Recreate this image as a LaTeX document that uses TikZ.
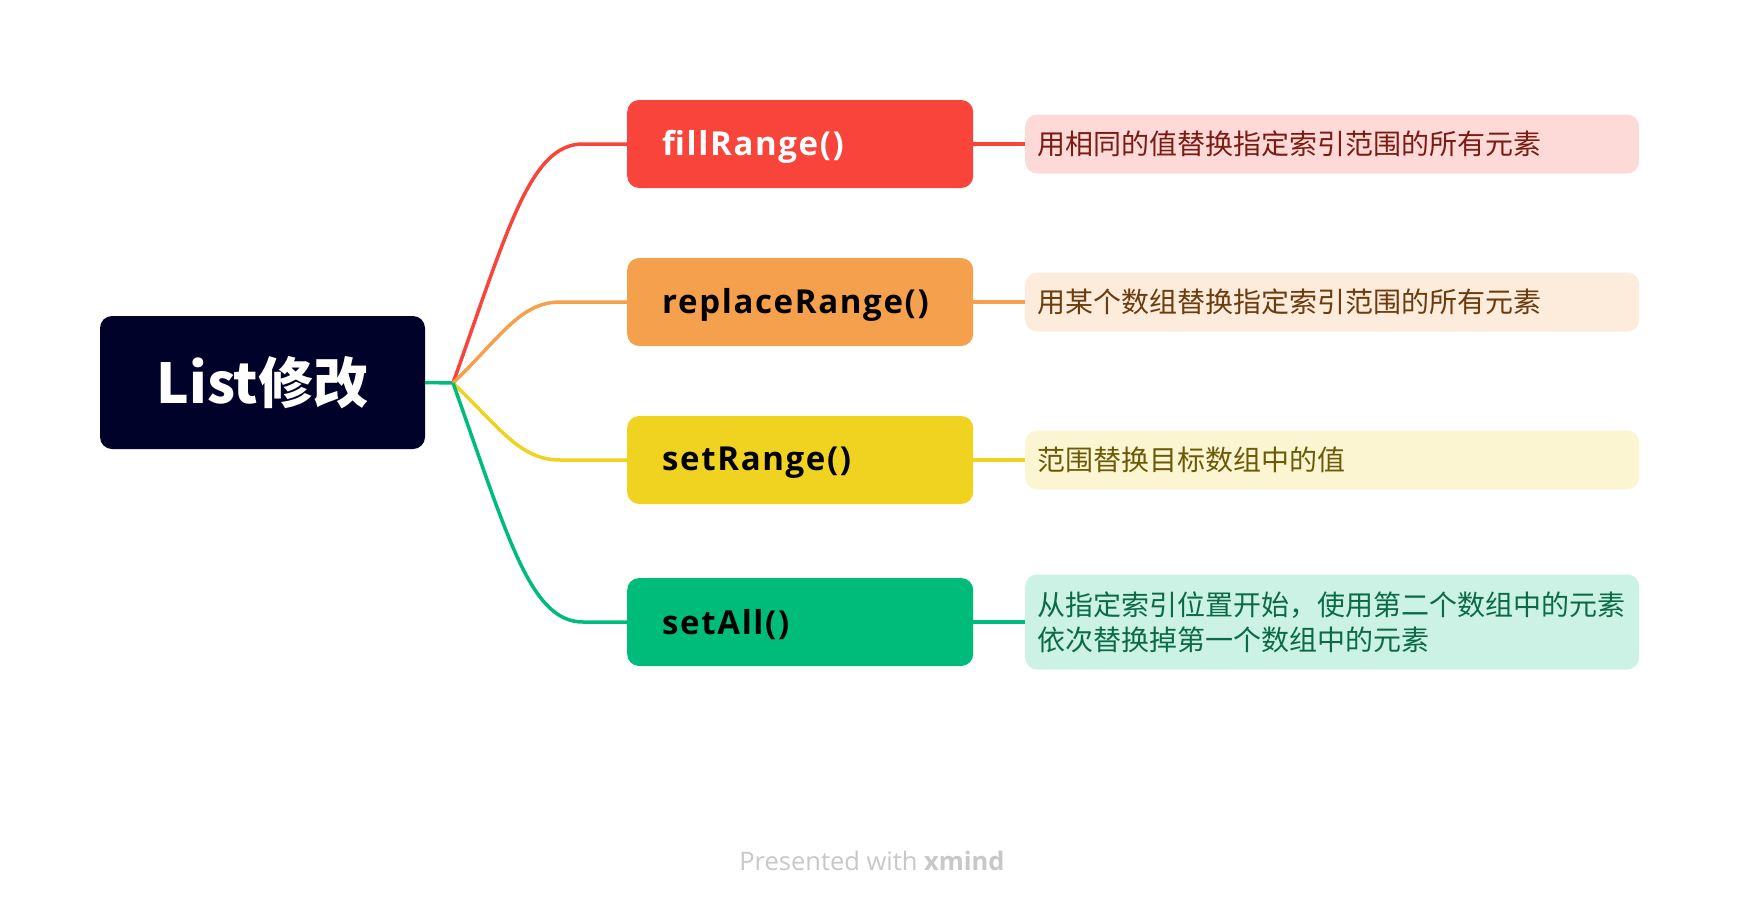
\documentclass[tikz,border=0pt]{standalone}
\usepackage{fontspec}
\setmainfont{Open Sans}
\newfontfamily\bfont{Open Sans}[LetterSpace=5]
\newfontfamily\cjk{Noto Sans CJK SC}
\definecolor{rootc}{HTML}{000229}
\definecolor{rc}{HTML}{F9443B}
\definecolor{oc}{HTML}{F5A04C}
\definecolor{yc}{HTML}{F0D320}
\definecolor{gc}{HTML}{00BC7B}
\definecolor{rl}{HTML}{FDDAD8}
\definecolor{ol}{HTML}{FDEBDB}
\definecolor{yl}{HTML}{FCF5D2}
\definecolor{gl}{HTML}{CCF1E5}
\definecolor{rt}{HTML}{7A1C14}
\definecolor{ot}{HTML}{6B3C0E}
\definecolor{yt}{HTML}{6B5B08}
\definecolor{gt}{HTML}{0B6B46}
\definecolor{wm}{HTML}{C8C8C8}
\begin{document}
\begin{tikzpicture}[x=1pt,y=-1pt,
  conn/.style={line width=3.5pt},
  branch/.style={rounded corners=12pt, minimum height=88pt, text width=276pt, inner xsep=35pt, inner ysep=0pt, align=left, anchor=west, font=\bfont\fontsize{33}{40}\selectfont\bfseries},
  btext/.style={anchor=west, inner sep=0pt, font=\bfont\fontsize{33}{40}\selectfont\bfseries},
  desc/.style={rounded corners=12pt, minimum height=59pt, text width=590pt, inner xsep=12pt, inner ysep=0pt, align=left, anchor=west, font=\cjk\fontsize{28}{35}\selectfont}]
\useasboundingbox (0,0) rectangle (1740,910);
\fill[white] (0,0) rectangle (1740,910);
% root
\node[fill=rootc, rounded corners=12pt, minimum width=325pt, minimum height=133pt, inner sep=0pt, text=white, font=\cjk\fontsize{55}{60}\selectfont\bfseries] (root) at (262.5,382.5) {List修改};
\coordinate (j) at (453,383);
% branches
\node[branch, fill=rc] (b1) at (627,144) {};
\node[branch, fill=oc] (b2) at (627,302) {};
\node[branch, fill=yc] (b3) at (627,460) {};
\node[branch, fill=gc] (b4) at (627,622) {};
\node[btext, text=white] (t1) at (662,147) {fillRange()};
\node[btext, text=black] (t2) at (662,305) {replaceRange()};
\node[btext, text=black] (t3) at (662,463) {setRange()};
\node[btext, text=black] (t4) at (662,625) {setAll()};
% descriptions
\node[desc, fill=rl, text=rt] (d1) at (1025,144) {用相同的值替换指定索引范围的所有元素};
\node[desc, fill=ol, text=ot] (d2) at (1025,302) {用某个数组替换指定索引范围的所有元素};
\node[desc, fill=yl, text=yt] (d3) at (1025,460) {范围替换目标数组中的值};
\node[desc, fill=gl, text=gt, minimum height=95pt] (d4) at (1025,622) {从指定索引位置开始，使用第二个数组中的元素\\依次替换掉第一个数组中的元素};
% connectors
\draw[conn, gc] (root.east) -- (j);
\draw[conn, rc] (j) .. controls (508,229) and (530,144) .. (583,144) -- (b1.west);
\draw[conn, oc] (j) .. controls (500,338) and (520,302) .. (560,302) -- (b2.west);
\draw[conn, yc] (j) .. controls (500,428) and (520,460) .. (560,460) -- (b3.west);
\draw[conn, gc] (j) .. controls (508,537) and (530,622) .. (583,622) -- (b4.west);
\draw[conn, rc] (b1.east) -- (d1.west);
\draw[conn, oc] (b2.east) -- (d2.west);
\draw[conn, yc] (b3.east) -- (d3.west);
\draw[conn, gc] (b4.east) -- (d4.west);
% watermark
\node[font=\fontsize{25.5}{30}\selectfont, text=wm] (wm) at (872,861) {Presented with \textbf{xmind}};
\end{tikzpicture}
\end{document}
